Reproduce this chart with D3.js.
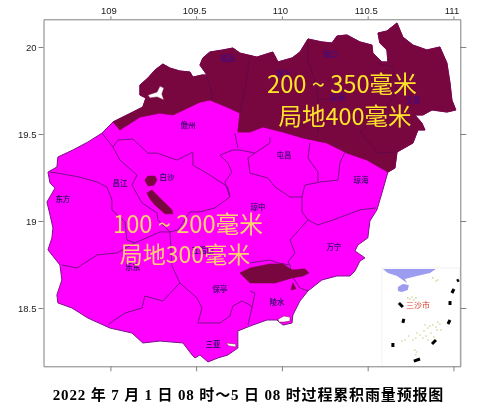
<!DOCTYPE html>
<html><head><meta charset="utf-8">
<script src="https://cdnjs.cloudflare.com/ajax/libs/d3/7.8.5/d3.min.js"></script>
<style>html,body{margin:0;padding:0;background:#fff;overflow:hidden}svg{display:block;filter:blur(.35px)}</style>
</head><body><div id="c"></div>
<script>
const lonTicks=[109,109.5,110,110.5,111];
const latTicks=[18.5,19,19.5,20];
const coastNorth=[[109.015,19.569],[109.131,19.626],[109.189,19.655],[109.207,19.707],[109.172,19.724],[109.172,19.781],[109.219,19.822],[109.260,19.868],[109.306,19.902],[109.347,19.879],[109.405,19.862],[109.464,19.856],[109.481,19.827],[109.534,19.839],[109.563,19.839],[109.522,19.896],[109.539,19.937],[109.580,19.971],[109.656,19.983],[109.714,19.994],[109.755,19.965],[109.802,19.954],[109.854,19.942],[109.947,19.971],[109.977,19.914],[110.059,19.937],[110.105,19.971],[110.152,20.046],[110.233,20.029],[110.292,20.023],[110.321,20.063],[110.379,20.069],[110.455,20.029],[110.525,20.011],[110.530,19.965],[110.583,19.914],[110.618,19.914],[110.612,19.983],[110.571,20.023],[110.560,20.080],[110.612,20.092],[110.671,20.138],[110.705,20.057],[110.764,20.011],[110.845,19.983],[110.921,20.000],[110.962,19.908],[110.980,19.793],[110.991,19.695],[111.014,19.638],[110.962,19.626],[110.875,19.638],[110.822,19.609],[110.775,19.609],[110.816,19.563],[110.834,19.523],[110.793,19.523],[110.764,19.448],[110.671,19.396],[110.659,19.304],[110.618,19.281]];
const coastSouth=[[110.583,19.160],[110.554,19.064],[110.513,19.000],[110.501,18.903],[110.443,18.862],[110.426,18.828],[110.484,18.788],[110.455,18.770],[110.426,18.713],[110.397,18.684],[110.321,18.684],[110.233,18.661],[110.152,18.598],[110.105,18.540],[110.064,18.460],[110.059,18.414],[110.006,18.402],[109.971,18.431],[109.913,18.431],[109.814,18.396],[109.743,18.368],[109.743,18.270],[109.685,18.230],[109.627,18.213],[109.569,18.190],[109.522,18.230],[109.493,18.213],[109.476,18.230],[109.423,18.299],[109.289,18.310],[109.189,18.299],[109.126,18.356],[108.997,18.385],[108.869,18.442],[108.776,18.500],[108.694,18.529],[108.688,18.575],[108.717,18.661],[108.706,18.747],[108.636,18.834],[108.659,18.903],[108.665,18.960],[108.648,19.035],[108.630,19.109],[108.677,19.189],[108.648,19.218],[108.636,19.281],[108.688,19.310],[108.694,19.368],[108.781,19.408],[108.869,19.454],[108.951,19.505]];
const heavyEdge=[[110.496,19.350],[110.379,19.390],[110.262,19.448],[110.122,19.477],[110.006,19.511],[109.889,19.540],[109.814,19.511],[109.743,19.511],[109.755,19.620],[109.679,19.655],[109.580,19.695],[109.522,19.683],[109.364,19.609],[109.289,19.620],[109.172,19.597],[109.056,19.523]];
const waterAreas=[
 [[109.219,19.724],[109.272,19.741],[109.289,19.776],[109.312,19.764],[109.300,19.730],[109.312,19.695],[109.272,19.713],[109.230,19.707]],
 [[109.977,18.436],[110.012,18.454],[110.047,18.448],[110.047,18.425],[110.012,18.419],[109.983,18.419]],
 [[109.673,18.299],[109.731,18.293],[109.731,18.276],[109.691,18.282]]
];
const countyLines=[
 [[108.951,19.505],[109.015,19.425],[109.044,19.465],[109.131,19.471],[109.219,19.390],[109.272,19.390],[109.388,19.350],[109.481,19.396],[109.481,19.321],[109.580,19.264],[109.685,19.195],[109.697,19.138]],
 [[109.697,19.138],[109.609,19.075],[109.522,19.052],[109.464,19.052],[109.394,18.949],[109.347,18.937]],
 [[109.015,19.425],[109.056,19.350],[109.155,19.264],[109.126,19.206],[109.184,19.104],[109.272,19.046],[109.277,19.006],[109.347,18.937]],
 [[108.648,19.281],[108.694,19.275],[108.822,19.252],[108.922,19.224],[108.980,19.195],[109.009,19.121],[109.009,19.064],[109.085,18.995],[109.096,18.891],[109.143,18.874]],
 [[108.717,18.747],[108.805,18.730],[108.922,18.805],[109.038,18.816],[109.143,18.874],[109.289,18.937],[109.347,18.937]],
 [[109.347,18.937],[109.359,18.741],[109.405,18.644],[109.306,18.540],[109.201,18.569],[109.184,18.500],[109.085,18.471],[109.015,18.425],[108.986,18.402]],
 [[109.405,18.644],[109.504,18.558],[109.534,18.500],[109.510,18.414],[109.639,18.414],[109.697,18.454],[109.714,18.511],[109.767,18.540],[109.814,18.517],[109.825,18.500],[109.802,18.402]],
 [[109.814,18.598],[109.843,18.586],[109.825,18.500]],
 [[109.639,19.379],[109.714,19.408],[109.755,19.408],[109.843,19.390],[109.930,19.448],[109.930,19.482]],
 [[109.726,19.505],[109.743,19.419]],
 [[109.843,19.390],[109.802,19.362],[109.814,19.275],[109.918,19.247],[109.960,19.195],[110.047,19.138],[110.117,19.138],[110.134,19.206],[110.222,19.224],[110.327,19.235],[110.338,19.333],[110.367,19.396]],
 [[110.117,19.138],[110.117,19.052],[110.152,19.006],[110.210,18.977],[110.298,19.006],[110.455,19.064],[110.548,19.075]],
 [[110.152,19.006],[110.047,18.891],[110.076,18.816],[110.035,18.764],[110.047,18.747],[110.059,18.684],[110.105,18.615],[110.152,18.598]],
 [[109.814,18.759],[109.930,18.776],[109.977,18.759],[110.047,18.747]],
 [[110.163,19.448],[110.152,19.362],[110.210,19.281],[110.210,19.224]],
 [[109.639,19.379],[109.685,19.333],[109.708,19.281],[109.667,19.224],[109.697,19.138]]
];
const heavyCountyLines=[
 [[110.152,20.040],[110.152,19.925],[110.204,19.770],[110.210,19.638],[110.210,19.505]],
 [[110.554,19.908],[110.647,19.885],[110.671,19.753],[110.589,19.620],[110.455,19.511],[110.560,19.390],[110.671,19.396]],
 [[109.563,19.827],[109.598,19.712],[109.580,19.695]],
 [[110.210,19.695],[110.321,19.707],[110.379,19.713]],
 [[109.814,19.954],[109.784,19.752],[109.755,19.620]]
];
const heavyPatches=[
 [[109.201,19.235],[109.219,19.258],[109.260,19.258],[109.272,19.235],[109.254,19.206],[109.219,19.201]],
 [[109.213,19.161],[109.242,19.178],[109.289,19.132],[109.359,19.064],[109.364,19.041],[109.318,19.041],[109.260,19.092],[109.230,19.127]],
 [[109.755,18.701],[109.814,18.730],[109.930,18.753],[110.006,18.753],[110.059,18.719],[110.134,18.725],[110.158,18.701],[110.123,18.684],[110.059,18.673],[109.960,18.644],[109.814,18.644],[109.796,18.661]],
 [[110.053,18.604],[110.064,18.644],[110.082,18.610]]
];
const countyNames=["儋州","临高","海口","澄迈","定安","文昌","屯昌","琼海","琼中","万宁","陵水","保亭","三亚","乐东","东方","昌江","白沙","五指山"];
const countyLons=[109.452,109.685,110.280,110.006,110.327,110.764,110.012,110.461,109.860,110.303,109.971,109.639,109.598,109.131,108.723,109.056,109.330,109.539];
const countyLats=[19.551,19.931,19.954,19.839,19.707,19.695,19.374,19.235,19.075,18.845,18.529,18.604,18.293,18.730,19.126,19.218,19.252,18.828];
const insetBox=[[110.583,18.730],[111.036,18.165]];
const insetLand=[[110.589,18.724],[110.898,18.724],[110.863,18.701],[110.787,18.684],[110.717,18.667],[110.729,18.644],[110.705,18.661],[110.671,18.684],[110.618,18.701]];
const insetIsland=[[110.676,18.621],[110.705,18.638],[110.740,18.632],[110.734,18.604],[110.699,18.592],[110.676,18.598]];
const dashLine=[
 [[110.682,18.529],[110.705,18.506]],[[110.711,18.437],[110.705,18.414]],[[110.647,18.299],[110.647,18.276]],
 [[110.769,18.195],[110.805,18.207]],[[110.875,18.293],[110.898,18.316]],[[110.968,18.408],[110.980,18.431]],
 [[110.980,18.540],[110.980,18.517]],[[110.991,18.586],[111.003,18.609]],[[111.020,18.655],[111.032,18.661]]
];
const islets=[[110.834,18.402],[110.851,18.385],[110.828,18.368],[110.863,18.396],[110.840,18.339],[110.880,18.402],[110.898,18.391],[110.921,18.408],[110.904,18.373],[110.869,18.356],[110.886,18.333],[110.851,18.316],[110.822,18.328],[110.805,18.345],[110.781,18.328],[110.764,18.316],[110.740,18.339],[110.717,18.316],[110.699,18.310],[110.787,18.356],[110.927,18.373],[110.909,18.419],[110.775,18.258],[110.787,18.247],[110.781,18.230],[110.758,18.563],[110.769,18.546],[110.746,18.552],[110.781,18.558],[110.734,18.558],[110.880,18.673],[110.898,18.655],[110.909,18.661]];
const rainLabels=[["200 ~ 350毫米",342,93,23.7],["局地400毫米",345,125,23.5],["100 ~ 200毫米",188,233,23.7],["局地300毫米",185,263,23]];
const caption="2022 年 7 月 1 日 08 时～5 日 08 时过程累积雨量预报图";

const W=500,H=418;
const svg=d3.select("#c").append("svg").attr("width",W).attr("height",H);
const x=d3.scaleLinear().domain([108.61,111.04]).range([43.5,460.3]);
const y=d3.scaleLinear().domain([20.159,18.165]).range([19.3,366.3]);
const line=d3.line().x(d=>x(d[0])).y(d=>y(d[1]));
const area=pts=>line(pts)+"Z";
const MAG="#ff00ff",DARK="#78063f",EDGE="#7a1288";

const land=svg.append("g");
land.append("path").attr("d",area(coastNorth.concat(coastSouth))).attr("fill",MAG).attr("stroke",EDGE).attr("stroke-width",1);
land.append("path").attr("d",area(coastNorth.concat(heavyEdge))).attr("fill",DARK).attr("stroke",DARK).attr("stroke-width",.8);
land.append("g").selectAll("path").data(countyLines).join("path").attr("d",line).attr("fill","none").attr("stroke",EDGE).attr("stroke-width",1);
land.append("g").selectAll("path").data(heavyCountyLines).join("path").attr("d",line).attr("fill","none").attr("stroke","#5c0848").attr("stroke-width",.8);
land.append("g").selectAll("path").data(heavyPatches).join("path").attr("d",area).attr("fill",DARK).attr("stroke",DARK).attr("stroke-width",.6);
land.append("g").selectAll("path").data(waterAreas).join("path").attr("d",area).attr("fill","#fff").attr("stroke",DARK).attr("stroke-width",.5);

svg.append("g").selectAll("text").data(countyNames).join("text")
 .attr("x",(d,i)=>x(countyLons[i])).attr("y",(d,i)=>y(countyLats[i])+2.5)
 .attr("text-anchor","middle").attr("font-family","'Noto Sans CJK SC'").attr("font-size",7.5).attr("font-weight",700).attr("fill","#4a0a78").text(d=>d);

const inset=svg.append("g");
inset.append("rect").attr("x",x(insetBox[0][0])).attr("y",y(insetBox[0][1])).attr("width",x(insetBox[1][0])-x(insetBox[0][0])).attr("height",y(insetBox[1][1])-y(insetBox[0][1])).attr("fill","#fff").attr("stroke","#eeeeee").attr("stroke-width",.8);
inset.append("path").attr("d",area(insetLand)).attr("fill","#9c9cf0");
inset.append("path").attr("d",area(insetIsland)).attr("fill","#9c9cf0");
inset.append("g").selectAll("path").data(dashLine).join("path").attr("d",line).attr("stroke","#000").attr("stroke-width",3).attr("fill","none");
inset.append("g").selectAll("circle").data(islets).join("circle").attr("cx",d=>x(d[0])).attr("cy",d=>y(d[1])).attr("r",.8).attr("fill","#c4d28a");
inset.append("text").attr("x",418).attr("y",308).attr("text-anchor","middle").attr("font-family","'Noto Sans CJK SC'").attr("font-size",8).attr("fill","#d83a2a").text("三沙市");

const ff="'Liberation Sans',Arial,sans-serif";
function styleAxis(g,labels,dx){
 g.selectAll(".domain,.tick line").attr("stroke","#808080").attr("stroke-width",1);
 g.selectAll("text").attr("font-family",ff).attr("font-size",9.5).attr("fill","#222");
 if(!labels) g.selectAll("text").remove();
 if(dx) g.selectAll("text").attr("dx",dx);
}
const fmt=d3.format("");
svg.append("g").attr("transform",`translate(0,${y.range()[0]})`).call(d3.axisTop(x).tickValues(lonTicks).tickFormat(fmt).tickSize(3).tickSizeOuter(0).tickPadding(2)).call(g=>styleAxis(g,true,-2));
svg.append("g").attr("transform",`translate(0,${y.range()[1]})`).call(d3.axisBottom(x).tickValues(lonTicks).tickSize(5).tickSizeOuter(0)).call(g=>styleAxis(g,false));
svg.append("g").attr("transform",`translate(${x.range()[0]},0)`).call(d3.axisLeft(y).tickValues(latTicks).tickFormat(fmt).tickSize(5).tickSizeOuter(0).tickPadding(2)).call(g=>styleAxis(g,true));
svg.append("g").attr("transform",`translate(${x.range()[1]},0)`).call(d3.axisRight(y).tickValues(latTicks).tickSize(6).tickSizeOuter(0)).call(g=>styleAxis(g,false));

svg.append("g").selectAll("text").data(rainLabels).join("text")
 .attr("x",d=>d[1]).attr("y",d=>d[2]).attr("text-anchor","middle")
 .attr("font-family","'Noto Sans CJK SC','Noto Sans',sans-serif").attr("font-weight",400).attr("font-size",d=>d[3])
 .attr("fill",(d,i)=>i<2?"#ffe42a":"#ffd070").text(d=>d[0]);

svg.append("text").attr("x",248.5).attr("y",400).attr("text-anchor","middle").attr("letter-spacing",.85)
 .attr("font-family","'Liberation Serif','Noto Sans CJK SC',serif").attr("font-weight",700).attr("font-size",15).attr("fill","#000").text(caption);
</script></body></html>
